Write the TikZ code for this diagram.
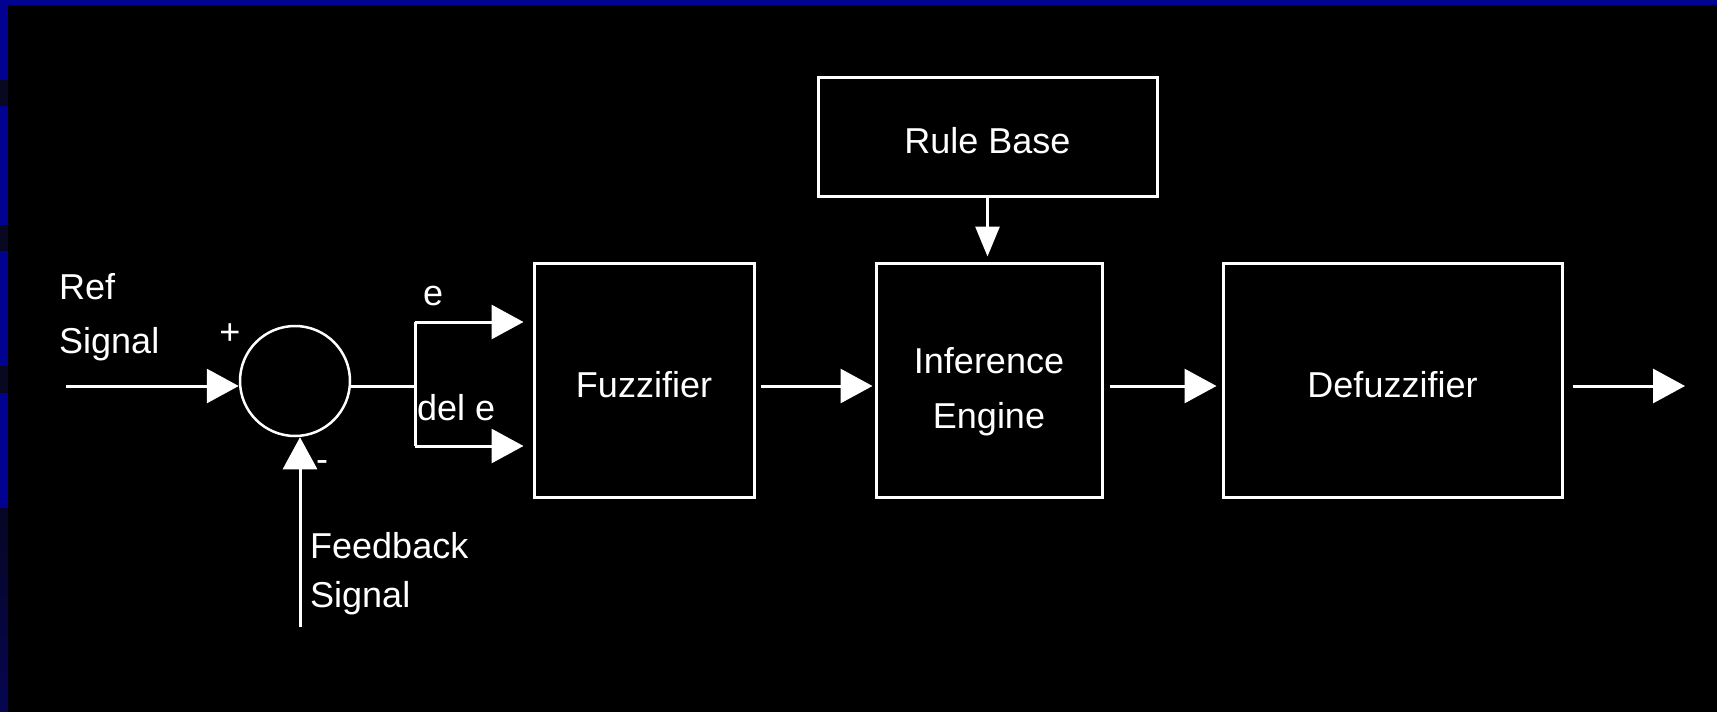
\documentclass[tikz,border=0pt]{standalone}
\usepackage{fontspec}
\setmainfont{Liberation Sans}
\usetikzlibrary{arrows.meta}
\definecolor{stripblue}{RGB}{2,2,145}
\definecolor{stripdark}{RGB}{8,8,32}
\definecolor{navytop}{RGB}{6,6,36}
\definecolor{navybot}{RGB}{6,6,80}
\begin{document}
\begin{tikzpicture}[x=1pt,y=-1pt,
  every node/.style={text=white, font=\fontsize{36pt}{55pt}\selectfont, inner sep=0pt},
  blk/.style={draw=white, line width=3pt, rectangle},
  wire/.style={draw=white, line width=3pt},
  arr/.style={wire, -{Triangle[length=32pt,width=34pt]}},
  arrsmall/.style={wire, -{Triangle[length=30pt,width=24pt]}},
  lbl/.style={}]
\useasboundingbox (0,0) rectangle (1717,712);
% background
\fill[black] (0,0) rectangle (1717,712);
\fill[stripblue] (0,0) rectangle (1717,5);
\fill[stripblue] (0,0) rectangle (8,80);
\fill[stripdark] (0,80) rectangle (8,106);
\fill[stripblue] (0,106) rectangle (8,225);
\fill[stripdark] (0,225) rectangle (8,251);
\fill[stripblue] (0,251) rectangle (8,366);
\fill[stripdark] (0,366) rectangle (8,393);
\fill[stripblue] (0,393) rectangle (8,508);
\shade[top color=navytop, bottom color=navybot] (0,508) rectangle (8,712);

% blocks
\node[blk, minimum width=339pt, minimum height=119pt, text height=34pt, text depth=0pt] (rule) at (987.5,136.5) {Rule Base};
\node[blk, minimum width=220pt, minimum height=234pt, text height=34pt, text depth=0pt] (fuzz) at (644,380) {Fuzzifier};
\node[blk, minimum width=226pt, minimum height=234pt, align=center] (inf) at (989,380) {\rule{0pt}{49pt}Inference\\Engine\rule[-8pt]{0pt}{8pt}};
\node[blk, minimum width=339pt, minimum height=234pt, text height=34pt, text depth=0pt] (defuzz) at (1392.5,380) {Defuzzifier};

% summing junction
\node[draw=white, line width=2.5pt, circle, minimum size=110pt] (sum) at (295,381) {};

% texts
\node[lbl, anchor=base west] (ref1) at (59,299) {Ref};
\node[lbl, anchor=base west] (ref2) at (59,353) {Signal};
\node[lbl, anchor=base west] (fb1) at (310,558) {Feedback};
\node[lbl, anchor=base west] (fb2) at (310,607) {Signal};
\node[lbl] (plus) at (230,334) {+};
\node[lbl] (minus) at (322,466) {-};
\node[lbl, anchor=base west] (elbl) at (423,305) {e};
\node[lbl, anchor=base west] (dele) at (417,420) {del e};

% connectors
\coordinate (refin) at (66,386);
\coordinate (br) at (415,386);
\coordinate (etop) at (415,322);
\coordinate (ebot) at (415,446);
\coordinate (fbin) at (300,627);
\coordinate (out) at (1685,386);

\draw[arr] (refin) -- (refin -| sum.west);
\draw[arr] (fbin) -- (fbin |- sum.south);
\draw[wire] (sum.east |- br) -- (br);
\draw[wire] (etop) -- (ebot);
\draw[arr, shorten >=9pt] (etop) -- (etop -| fuzz.west);
\draw[arr, shorten >=9pt] (ebot) -- (ebot -| fuzz.west);
\draw[arr, shorten <=5pt, shorten >=2pt] (fuzz.east |- br) -- (inf.west |- br);
\draw[arr, shorten <=6pt, shorten >=5pt] (inf.east |- br) -- (defuzz.west |- br);
\draw[arr, shorten <=9pt] (defuzz.east |- br) -- (out);
\draw[arrsmall, shorten >=5pt] (rule.south) -- (rule.south |- inf.north);
\end{tikzpicture}
\end{document}
